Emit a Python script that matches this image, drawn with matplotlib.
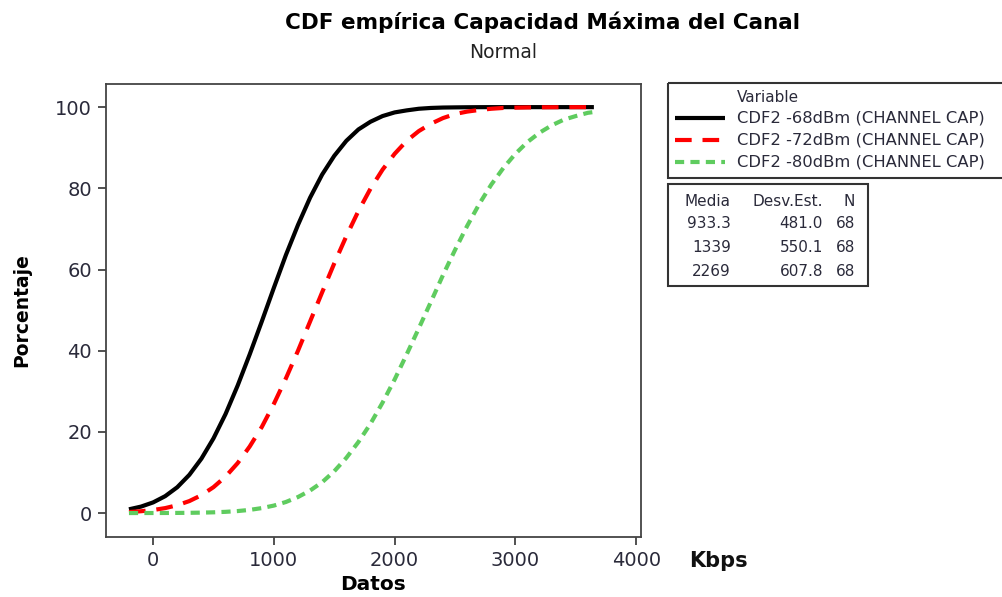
"""CDF empírica de la capacidad máxima del canal (ajuste normal) para tres niveles de señal."""

import matplotlib

matplotlib.use("Agg")
import matplotlib.pyplot as plt
from matplotlib.lines import Line2D
from matplotlib.patches import Rectangle

# datos (Kbps -> porcentaje acumulado)
x_datos = [-200, -100, 0, 100, 200, 300, 400, 500, 600, 700, 800, 900, 1000,
           1100, 1200, 1300, 1400, 1500, 1600, 1700, 1800, 1900, 2000, 2100,
           2200, 2300, 2400, 2500, 2600, 2700, 2800, 2900, 3000, 3100, 3200,
           3300, 3400, 3500, 3600, 3650]
pct_68 = [0.92, 1.59, 2.62, 4.16, 6.36, 9.41, 13.4, 18.4, 24.4, 31.4, 39.1,
          47.2, 55.5, 63.6, 71.0, 77.7, 83.4, 88.0, 91.7, 94.5, 96.4, 97.8,
          98.7, 99.2, 99.6, 99.8, 99.9, 99.94, 99.97, 99.99, 100, 100, 100,
          100, 100, 100, 100, 100, 100, 100]
pct_72 = [0.26, 0.45, 0.75, 1.22, 1.93, 2.95, 4.40, 6.38, 8.99, 12.3, 16.4,
          21.2, 26.9, 33.2, 40.0, 47.2, 54.4, 61.5, 68.2, 74.4, 79.9, 84.6,
          88.5, 91.7, 94.1, 95.9, 97.3, 98.3, 98.9, 99.3, 99.6, 99.8, 99.87,
          99.93, 99.96, 99.98, 99.99, 100, 100, 100]
pct_80 = [0.002, 0.005, 0.01, 0.018, 0.033, 0.06, 0.105, 0.18, 0.30, 0.49,
          0.78, 1.22, 1.84, 2.73, 3.95, 5.55, 7.60, 10.3, 13.6, 17.5, 22.0,
          27.2, 32.9, 39.1, 45.5, 52.0, 58.6, 64.8, 70.7, 76.1, 80.9, 85.0,
          88.5, 91.4, 93.7, 95.5, 96.9, 97.8, 98.6, 98.8]

etiquetas = ["CDF2 -68dBm (CHANNEL CAP)", "CDF2 -72dBm (CHANNEL CAP)",
             "CDF2 -80dBm (CHANNEL CAP)"]
medias = ["933.3", "1339", "2269"]
desv_est = ["481.0", "550.1", "607.8"]
n_obs = ["68", "68", "68"]

x_ticks = [0, 1000, 2000, 3000, 4000]
y_ticks = [0, 20, 40, 60, 80, 100]

colores = ["#000000", "#ff0000", "#5fcc5f"]
estilos = ["-", (0, (4.0, 2.6)), (0, (2.2, 1.5))]
TXT = "#2a2a3a"

fig = plt.figure(figsize=(10.02, 5.97), dpi=100)
ax = fig.add_axes([0.1058, 0.1005, 0.5339, 0.7588])

for ys, c, ls in zip([pct_68, pct_72, pct_80], colores, estilos):
    ax.plot(x_datos, ys, color=c, linestyle=ls, lw=3.0, solid_capstyle="butt")

ax.set_xlim(-390, 4040)
ax.set_ylim(-5.9, 105.7)
ax.set_xticks(x_ticks)
ax.set_yticks(y_ticks)
ax.tick_params(direction="out", length=6, width=1.2, colors="#333333",
               labelsize=14, labelcolor=TXT, pad=4)
for sp in ax.spines.values():
    sp.set_color("#444444")
    sp.set_linewidth(1.3)

ax.set_xlabel("Datos", fontsize=14.5, fontweight="bold", labelpad=4)
ax.set_ylabel("Porcentaje", fontsize=13.5, fontweight="bold", labelpad=17)

fig.text(0.541, 0.962, "CDF empírica Capacidad Máxima del Canal",
         ha="center", va="center", fontsize=15.5, fontweight="bold")
fig.text(0.502, 0.912, "Normal", ha="center", va="center", fontsize=13.5,
         color="#222222")
fig.text(0.688, 0.06, "Kbps", ha="left", va="center", fontsize=15,
         fontweight="bold", color="#111111")

# capa en pixeles para los cuadros de leyenda
ov = fig.add_axes([0, 0, 1, 1], facecolor="none")
ov.set_xlim(0, 1002)
ov.set_ylim(597, 0)
ov.axis("off")

ov.add_patch(Rectangle((668, 83), 360, 95, fill=False, ec="#333333", lw=1.5,
                       clip_on=False))
ov.text(737, 98, "Variable", fontsize=11, va="center", ha="left", color=TXT)
for i, (lab, c, ls) in enumerate(zip(etiquetas, colores, estilos)):
    y = 118 + i * 22
    ov.add_line(Line2D([675, 725], [y, y], color=c, linestyle=ls, lw=3.0,
                       solid_capstyle="butt"))
    ov.text(737, y, lab, fontsize=11.8, va="center", ha="left", color=TXT)

ov.add_patch(Rectangle((668, 184), 200, 102, fill=False, ec="#333333", lw=1.5))
ov.text(731, 201, "Media", fontsize=11, ha="right", va="center", color=TXT)
ov.text(823, 201, "Desv.Est.", fontsize=11, ha="right", va="center", color=TXT)
ov.text(855, 201, "N", fontsize=11, ha="right", va="center", color=TXT)
for i, (m, s, n) in enumerate(zip(medias, desv_est, n_obs)):
    y = 223 + i * 24.5
    ov.text(731, y, m, fontsize=11, ha="right", va="center", color=TXT)
    ov.text(823, y, s, fontsize=11, ha="right", va="center", color=TXT)
    ov.text(855, y, n, fontsize=11, ha="right", va="center", color=TXT)

fig.savefig("out.png", dpi=100, facecolor="white")
